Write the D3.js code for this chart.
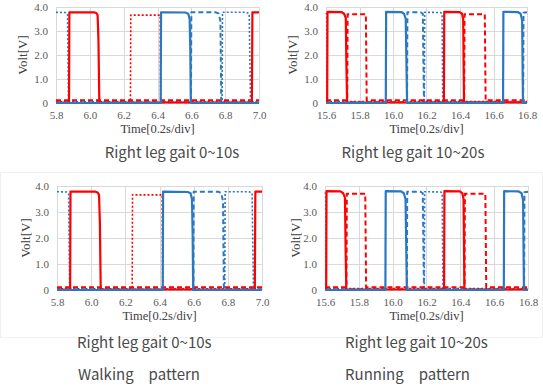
<!DOCTYPE html>
<html>
<head>
<meta charset="utf-8">
<script src="https://cdn.jsdelivr.net/npm/d3@7"></script>
<style>
  body { margin: 0; background: #fff; }
  svg { display: block; }
  .serif text, text.serif { font-family: "Liberation Serif", "Times New Roman", serif; }
</style>
</head>
<body>
<div id="chart"></div>
<script>
// tick values
const yTicks = [0, 1, 2, 3, 4];
const walkTicks = [5.8, 6.0, 6.2, 6.4, 6.6, 6.8, 7.0];
const runTicks = [15.6, 15.8, 16.0, 16.2, 16.4, 16.6, 16.8];

// walking pattern, right leg 0~10s  [time s, volt V]
const walkRedSolid = [[5.8, 0.02], [5.877, 0.02], [5.879, 3.78], [6.025, 3.78], [6.038, 3.75], [6.046, 3.66], [6.051, 2.6], [6.056, 0.02], [6.958, 0.02], [6.961, 3.78], [7.0, 3.78]];
const walkRedDotted = [[5.8, 0.05], [6.240, 0.05], [6.242, 3.66], [6.416, 3.66], [6.419, 0.05], [7.0, 0.05]];
const walkRedDashed = [[5.8, 0.11], [7.0, 0.11]];
const walkBlueSolid = [[5.8, 0.0], [6.419, 0.0], [6.421, 3.78], [6.565, 3.77], [6.582, 3.72], [6.590, 3.5], [6.594, 2.2], [6.597, 0.0], [7.0, 0.0]];
const walkBlueDashed = [[5.8, 0.03], [6.598, 0.03], [6.600, 3.78], [6.745, 3.78], [6.762, 3.72], [6.772, 3.4], [6.777, 0.03], [7.0, 0.03]];
const walkBlueDotted = [[5.8, 3.78], [5.855, 3.77], [5.868, 3.7], [5.874, 0.03], [6.782, 0.03], [6.784, 3.78], [6.925, 3.78], [6.942, 3.72], [6.950, 0.03], [7.0, 0.03]];

// running pattern, right leg 10~20s
const runRedSolid = [[15.6, 0.02], [15.607, 0.02], [15.609, 3.8], [15.692, 3.79], [15.708, 3.72], [15.718, 3.55], [15.722, 1.5], [15.726, 0.02], [16.304, 0.02], [16.306, 3.8], [16.398, 3.79], [16.412, 3.72], [16.419, 3.5], [16.424, 0.02], [16.8, 0.02]];
const runRedDashed = [[15.6, 0.11], [15.727, 0.11], [15.729, 3.7], [15.838, 3.7], [15.843, 0.11], [16.425, 0.11], [16.427, 3.7], [16.548, 3.7], [16.553, 0.11], [16.8, 0.11]];
const runRedDotted = [[15.6, 0.06], [16.8, 0.06]];
const runBlueSolid = [[15.6, 0.0], [15.957, 0.0], [15.959, 3.8], [16.050, 3.79], [16.066, 3.72], [16.076, 3.5], [16.080, 1.8], [16.084, 0.0], [16.657, 0.0], [16.659, 3.8], [16.745, 3.79], [16.762, 3.72], [16.771, 3.45], [16.776, 0.0], [16.8, 0.0]];
const runBlueDashed = [[15.6, 0.03], [16.084, 0.03], [16.086, 3.78], [16.165, 3.78], [16.178, 3.72], [16.185, 0.03], [16.777, 0.03], [16.779, 3.76], [16.8, 3.78]];
const runBlueDotted = [[15.6, 3.75], [15.604, 3.7], [15.607, 0.03], [16.187, 0.03], [16.189, 3.78], [16.285, 3.77], [16.293, 3.7], [16.297, 0.03], [16.8, 0.03]];

const RED = "#ff0000";
const BLUE = "#2a78c2";

const walkSeries = [
  { data: walkRedDotted, color: RED, dash: "2,2", w: 1.6 },
  { data: walkRedDashed, color: RED, dash: "5,3", w: 2 },
  { data: walkBlueDotted, color: BLUE, dash: "2,2", w: 1.6 },
  { data: walkBlueDashed, color: BLUE, dash: "5,3", w: 2 },
  { data: walkRedSolid, color: RED, dash: null, w: 2.2 },
  { data: walkBlueSolid, color: BLUE, dash: null, w: 2.2 }
];
const runSeries = [
  { data: runRedDotted, color: RED, dash: "2,2", w: 1.6 },
  { data: runBlueDotted, color: BLUE, dash: "2,2", w: 1.6 },
  { data: runBlueDashed, color: BLUE, dash: "5,3", w: 2 },
  { data: runRedDashed, color: RED, dash: "5,3", w: 2 },
  { data: runRedSolid, color: RED, dash: null, w: 2.2 },
  { data: runBlueSolid, color: BLUE, dash: null, w: 2.2 }
];

const W = 543, H = 387;
const svg = d3.select("#chart").append("svg")
  .attr("width", W)
  .attr("height", H);

// faint frame round the lower pair
svg.append("rect")
  .attr("x", 0.5).attr("y", 172.5)
  .attr("width", W - 1).attr("height", 165)
  .attr("fill", "none")
  .attr("stroke", "#f0f0f0");

const panels = [
  { ticks: walkTicks, series: walkSeries, left: 56, right: 259, top: 7, bottom: 103, ylab: 22, tlab: 133 },
  { ticks: runTicks, series: runSeries, left: 326, right: 527, top: 7, bottom: 103, ylab: 292, tlab: 133 },
  { ticks: walkTicks, series: walkSeries, left: 57, right: 262, top: 186, bottom: 290, ylab: 25, tlab: 320 },
  { ticks: runTicks, series: runSeries, left: 325, right: 528, top: 186, bottom: 290, ylab: 295, tlab: 320 }
];

panels.forEach(p => {
  const x = d3.scaleLinear()
    .domain([p.ticks[0], p.ticks[p.ticks.length - 1]])
    .range([p.left, p.right]);
  const y = d3.scaleLinear()
    .domain([0, 4])
    .range([p.bottom, p.top]);

  const g = svg.append("g");

  // grid
  g.append("g").selectAll("line")
    .data(p.ticks)
    .enter().append("line")
    .attr("x1", d => Math.round(x(d)) + 0.5).attr("x2", d => Math.round(x(d)) + 0.5)
    .attr("y1", p.top).attr("y2", p.bottom)
    .attr("stroke", "#d9d9d9");
  g.append("g").selectAll("line")
    .data(yTicks)
    .enter().append("line")
    .attr("x1", p.left).attr("x2", p.right)
    .attr("y1", d => Math.round(y(d)) + 0.5).attr("y2", d => Math.round(y(d)) + 0.5)
    .attr("stroke", "#d9d9d9");

  // axes
  const xa = g.append("g")
    .attr("transform", `translate(0,${p.bottom})`)
    .call(d3.axisBottom(x).tickValues(p.ticks).tickSize(0).tickPadding(8).tickFormat(d3.format(".1f")));
  const ya = g.append("g")
    .attr("transform", `translate(${p.left},0)`)
    .call(d3.axisLeft(y).tickValues(yTicks).tickSize(0).tickPadding(8)
      .tickFormat(d => d === 0 ? "0" : d3.format(".1f")(d)));
  [xa, ya].forEach(a => {
    a.select(".domain").remove();
    a.attr("font-family", null).attr("font-size", null).attr("class", "serif");
    a.selectAll("text")
      .style("font-size", "11px")
      .attr("fill", "#595959");
  });

  // traces
  const line = d3.line().x(d => x(d[0])).y(d => y(d[1]));
  g.append("g").selectAll("path")
    .data(p.series)
    .enter().append("path")
    .attr("d", d => line(d.data))
    .attr("fill", "none")
    .attr("stroke", d => d.color)
    .attr("stroke-width", d => d.w)
    .attr("stroke-dasharray", d => d.dash)
    .attr("stroke-linejoin", "round");

  // axis titles
  g.append("text")
    .attr("class", "serif")
    .attr("transform", `translate(${p.ylab},${(p.top + p.bottom) / 2}) rotate(-90)`)
    .attr("text-anchor", "middle")
    .attr("dy", "0.35em")
    .style("font-size", "13px")
    .attr("fill", "#404040")
    .text("Volt[V]");
  g.append("text")
    .attr("class", "serif")
    .attr("x", (p.left + p.right) / 2)
    .attr("y", p.tlab)
    .attr("text-anchor", "middle")
    .style("font-size", "12.5px")
    .attr("fill", "#404040")
    .text("Time[0.2s/div]");
});

// captions
const captions = [
  { text: "Right leg gait 0~10s", x: 172, y: 153, anchor: "middle" },
  { text: "Right leg gait 10~20s", x: 413, y: 153, anchor: "middle" },
  { text: "Right leg gait 0~10s", x: 77, y: 343, anchor: "start" },
  { text: "Right leg gait 10~20s", x: 345, y: 343, anchor: "start" },
  { text: "Walking\u3000pattern", x: 78, y: 375, anchor: "start" },
  { text: "Running\u3000pattern", x: 345, y: 375, anchor: "start" }
];
svg.append("g").selectAll("text")
  .data(captions)
  .enter().append("text")
  .attr("x", d => d.x)
  .attr("y", d => d.y)
  .attr("dy", "0.35em")
  .attr("text-anchor", d => d.anchor)
  .style("font-family", "'Noto Sans CJK JP', 'Noto Sans', sans-serif")
  .style("font-size", "15px")
  .attr("fill", "#4a4a4a")
  .text(d => d.text);
</script>
</body>
</html>
